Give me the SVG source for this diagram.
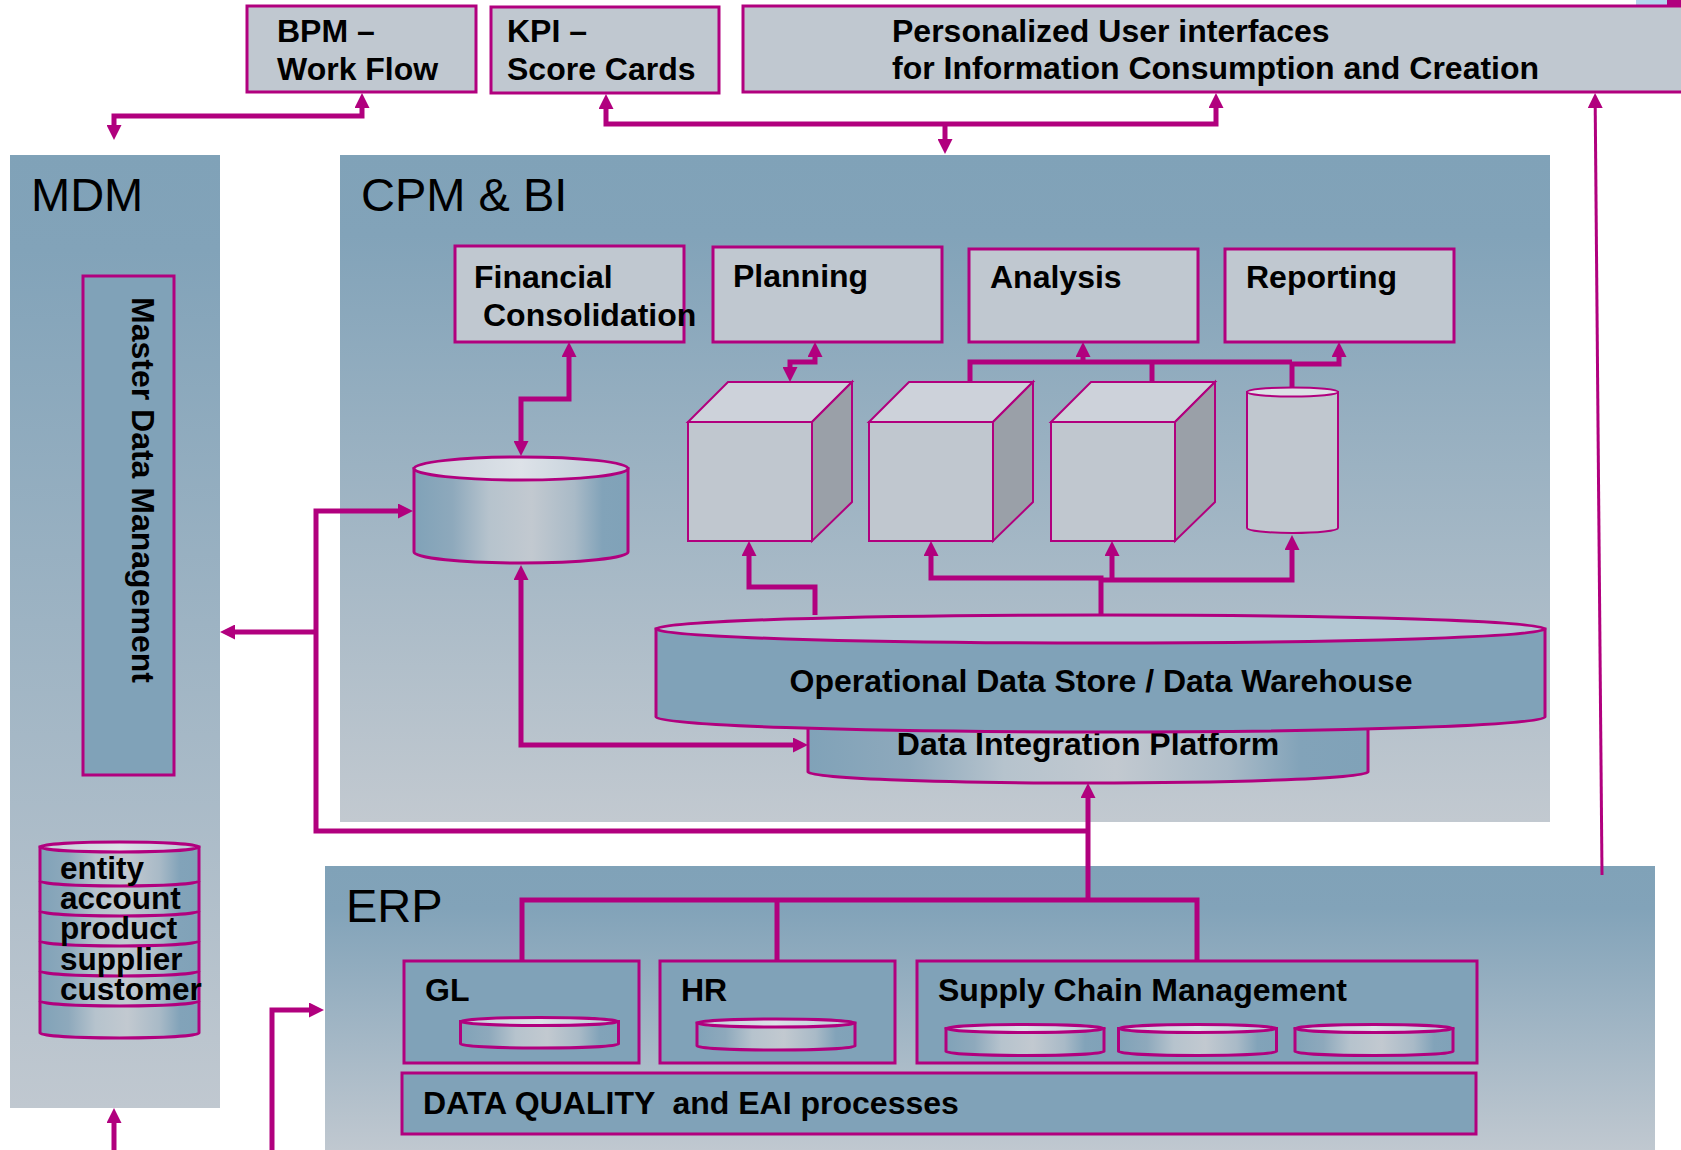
<svg xmlns="http://www.w3.org/2000/svg" width="1681" height="1150" viewBox="0 0 1681 1150">
<style>
.lbl{font-family:"Liberation Sans",Arial,sans-serif;font-weight:bold;font-size:32px;fill:#000}
.stk{font-family:"Liberation Sans",Arial,sans-serif;font-weight:bold;font-size:31.5px;fill:#000}
.ttl{font-family:"Liberation Sans",Arial,sans-serif;font-size:47px;fill:#000}
.box{fill:#c0c8d0;stroke:#b1007e;stroke-width:3}
.sbox{fill:#80a2b8;stroke:#b1007e;stroke-width:3}
.cyl{fill:url(#cylG);stroke:#b1007e;stroke-width:3}
.cylTop{fill:url(#topG);stroke:#b1007e;stroke-width:3}
.front{fill:#c0c7cf;stroke:#b1007e;stroke-width:2}
.topf{fill:#cdd2da;stroke:#b1007e;stroke-width:2}
.side{fill:#9aa0a8;stroke:#b1007e;stroke-width:2}
.band{fill:none;stroke:#b1007e;stroke-width:3}
.con{fill:none;stroke:#b1007e;stroke-width:5}
.thin{fill:none;stroke:#b1007e;stroke-width:3}
.arr{marker-end:url(#ah)}
.arr2{marker-start:url(#ah);marker-end:url(#ah)}
</style>
<defs>
<linearGradient id="panelG" x1="0" y1="0" x2="0" y2="1">
<stop offset="0" stop-color="#80a2b8"/>
<stop offset="0.12" stop-color="#82a3b9"/>
<stop offset="1" stop-color="#c2c9d0"/>
</linearGradient>
<linearGradient id="mdmG" x1="0" y1="0" x2="0" y2="1">
<stop offset="0" stop-color="#80a2b8"/>
<stop offset="0.1" stop-color="#82a3b9"/>
<stop offset="1" stop-color="#c0c8d0"/>
</linearGradient>
<linearGradient id="erpG" x1="0" y1="0" x2="0" y2="1">
<stop offset="0" stop-color="#80a2b8"/>
<stop offset="0.15" stop-color="#82a3b9"/>
<stop offset="1" stop-color="#c0c8d0"/>
</linearGradient>
<linearGradient id="cylG" x1="0" y1="0" x2="1" y2="0">
<stop offset="0" stop-color="#80a2b8"/>
<stop offset="0.18" stop-color="#8ea9bc"/>
<stop offset="0.35" stop-color="#b6c3cd"/>
<stop offset="0.55" stop-color="#c2c9d0"/>
<stop offset="0.75" stop-color="#a9bac7"/>
<stop offset="0.88" stop-color="#82a3b9"/>
<stop offset="1" stop-color="#80a2b8"/>
</linearGradient>
<linearGradient id="topG" x1="0" y1="0" x2="1" y2="0">
<stop offset="0" stop-color="#c5d0d9"/>
<stop offset="0.5" stop-color="#dde2e8"/>
<stop offset="1" stop-color="#b9c9d5"/>
</linearGradient>
<marker id="ah" viewBox="0 0 15 15" markerWidth="15" markerHeight="15" refX="2" refY="7.5" orient="auto-start-reverse" markerUnits="userSpaceOnUse">
<path d="M0,0 L15,7.5 L0,15 Z" fill="#b1007e"/>
</marker>
</defs>

<rect x="1636" y="0" width="31" height="5" fill="#b3d5ee"/>
<rect x="1667" y="0" width="14" height="5" fill="#b1007e"/>

<g id="mdm">
<rect x="10" y="155" width="210" height="953" fill="url(#mdmG)"/>
<text class="ttl" x="31" y="211">MDM</text>
</g>
<g id="cpm-bi">
<rect x="340" y="155" width="1210" height="667" fill="url(#panelG)"/>
<text class="ttl" x="361" y="211">CPM &amp; BI</text>
</g>
<g id="erp">
<rect x="325" y="866" width="1330" height="284" fill="url(#erpG)"/>
<text class="ttl" x="346" y="922">ERP</text>
</g>

<g id="bpm">
<rect class="box" x="247" y="6" width="229" height="86"/>
<text class="lbl" x="277" y="42">BPM –</text>
<text class="lbl" x="277" y="80">Work Flow</text>
</g>
<g id="kpi">
<rect class="box" x="491" y="7" width="228" height="86"/>
<text class="lbl" x="507" y="42">KPI –</text>
<text class="lbl" x="507" y="80">Score Cards</text>
</g>
<g id="personalized-ui">
<rect class="box" x="743" y="6" width="960" height="86"/>
<text class="lbl" x="892" y="42">Personalized User interfaces</text>
<text class="lbl" x="892" y="79">for Information Consumption and Creation</text>
</g>

<g id="master-data-management">
<rect class="sbox" x="83" y="276" width="91" height="499"/>
<text class="lbl" transform="translate(132,297) rotate(90)">Master Data Management</text>
</g>

<g id="master-data-store">
<path class="cyl" d="M40,847 V1033 A79.5,5 0 0 0 199,1033 V847 Z"/>
<ellipse class="cylTop" cx="119.5" cy="847" rx="79.5" ry="5"/>
<path class="band" d="M40,881 A79.5,5 0 0 0 199,881 M40,911 A79.5,5 0 0 0 199,911 M40,941 A79.5,5 0 0 0 199,941 M40,971 A79.5,5 0 0 0 199,971 M40,1001 A79.5,5 0 0 0 199,1001"/>
<text class="stk" x="60" y="879">entity</text>
<text class="stk" x="60" y="909">account</text>
<text class="stk" x="60" y="939">product</text>
<text class="stk" x="60" y="970">supplier</text>
<text class="stk" x="60" y="1000">customer</text>
</g>

<g id="financial-consolidation">
<rect class="box" x="455" y="246" width="229" height="96"/>
<text class="lbl" x="474" y="288">Financial</text>
<text class="lbl" x="483" y="326">Consolidation</text>
</g>
<g id="planning">
<rect class="box" x="713" y="247" width="229" height="95"/>
<text class="lbl" x="733" y="287">Planning</text>
</g>
<g id="analysis">
<rect class="box" x="969" y="249" width="229" height="93"/>
<text class="lbl" x="990" y="288">Analysis</text>
</g>
<g id="reporting">
<rect class="box" x="1225" y="249" width="229" height="93"/>
<text class="lbl" x="1246" y="288">Reporting</text>
</g>

<g id="consolidation-db">
<path class="cyl" d="M414,468.5 V552 A107,11 0 0 0 628,552 V468.5 Z"/>
<ellipse class="cylTop" cx="521" cy="468.5" rx="107" ry="11.5"/>
</g>

<g id="cube-1">
<rect class="front" x="688" y="422" width="124" height="119"/>
<path class="topf" d="M688,422 L728,382 L852,382 L812,422 Z"/>
<path class="side" d="M812,422 L852,382 L852,502 L812,541 Z"/>
</g>
<g id="cube-2">
<rect class="front" x="869" y="422" width="124" height="119"/>
<path class="topf" d="M869,422 L909,382 L1033,382 L993,422 Z"/>
<path class="side" d="M993,422 L1033,382 L1033,502 L993,541 Z"/>
</g>
<g id="cube-3">
<rect class="front" x="1051" y="422" width="124" height="119"/>
<path class="topf" d="M1051,422 L1091,382 L1215,382 L1175,422 Z"/>
<path class="side" d="M1175,422 L1215,382 L1215,502 L1175,541 Z"/>
</g>
<g id="report-db">
<path d="M1247,392 V528 A45.5,5 0 0 0 1338,528 V392 Z" fill="#c0c7cf" stroke="#b1007e" stroke-width="2"/>
<ellipse cx="1292.5" cy="392" rx="45.5" ry="4.5" fill="#dde1e6" stroke="#b1007e" stroke-width="2"/>
</g>

<g id="data-integration-platform">
<path class="cyl" d="M808,705 V772 A280,11 0 0 0 1368,772 V705 Z"/>
<text class="lbl" x="1088" y="755" text-anchor="middle">Data Integration Platform</text>
</g>
<g id="ods-dwh">
<path d="M656,629 V717 A444.5,15 0 0 0 1545,717 V629 Z" fill="#80a2b8" stroke="#b1007e" stroke-width="3"/>
<ellipse cx="1100.5" cy="629" rx="444.5" ry="14" fill="#b3c7d3" stroke="#b1007e" stroke-width="3"/>
<text class="lbl" x="1101" y="692" text-anchor="middle">Operational Data Store / Data Warehouse</text>
</g>

<g id="gl">
<rect class="sbox" x="404" y="961" width="235" height="102"/>
<text class="lbl" x="425" y="1001">GL</text>
<path class="cyl" d="M460.5,1021.5 V1044 A79,4 0 0 0 618.5,1044 V1021.5 Z"/>
<ellipse class="cylTop" cx="539.5" cy="1021.5" rx="79" ry="4"/>
</g>
<g id="hr">
<rect class="sbox" x="660" y="961" width="235" height="102"/>
<text class="lbl" x="681" y="1001">HR</text>
<path class="cyl" d="M697,1023 V1046 A79,4 0 0 0 855,1046 V1023 Z"/>
<ellipse class="cylTop" cx="776" cy="1023" rx="79" ry="4"/>
</g>
<g id="scm">
<rect class="sbox" x="917" y="961" width="560" height="102"/>
<text class="lbl" x="938" y="1001">Supply Chain Management</text>
<path class="cyl" d="M946,1028.5 V1051.5 A79,4 0 0 0 1104,1051.5 V1028.5 Z"/>
<ellipse class="cylTop" cx="1025" cy="1028.5" rx="79" ry="4"/>
<path class="cyl" d="M1118.5,1028.5 V1051.5 A79,4 0 0 0 1276.5,1051.5 V1028.5 Z"/>
<ellipse class="cylTop" cx="1197.5" cy="1028.5" rx="79" ry="4"/>
<path class="cyl" d="M1295,1028.5 V1051.5 A79,4 0 0 0 1453,1051.5 V1028.5 Z"/>
<ellipse class="cylTop" cx="1374" cy="1028.5" rx="79" ry="4"/>
</g>
<g id="data-quality-eai">
<rect class="sbox" x="402" y="1073" width="1074" height="61"/>
<text class="lbl" x="423" y="1114" xml:space="preserve">DATA QUALITY  and EAI processes</text>
</g>

<g id="connectors">
<path class="con arr2" d="M114,127 V116 H362 V106"/>
<path class="con arr2" d="M606,107 V124 H1216 V106"/>
<path class="con arr" d="M945,124 V141"/>
<path class="thin arr" d="M1602,875 L1595.2,106"/>
<path class="con arr" d="M1088,900 V796"/>
<path class="con arr" d="M1088,831 H316 V511 H400"/>
<path class="con arr" d="M316,632 H233"/>
<path class="con arr2" d="M521,578 V745 H795"/>
<path class="con arr2" d="M569,355 V399 H521 V443"/>
<path class="con arr2" d="M815,355 V362 H790 V369"/>
<path class="con" d="M970,382 V362 H1292"/>
<path class="con arr" d="M1083,362 V355"/>
<path class="con arr" d="M1290,364 H1339 V355"/>
<path class="con" d="M1152,362 V382"/>
<path class="con" d="M1292,362 V388"/>
<path class="con arr" d="M815,615 V587 H749 V554"/>
<path class="con arr" d="M1101,614 V578 H931 V554"/>
<path class="con arr" d="M1101,580 H1292 V548"/>
<path class="con arr" d="M1112,578 V554"/>
<path class="con" d="M522,961 V900 H1197 V961"/>
<path class="con" d="M777,900 V961"/>
<path class="con arr" d="M114,1150 V1121"/>
<path class="con arr" d="M272,1150 V1010 H311"/>
</g>
</svg>
